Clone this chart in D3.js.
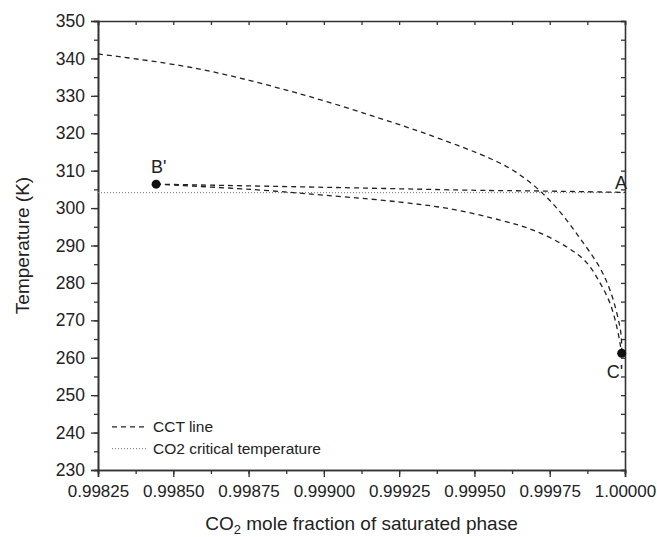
<!DOCTYPE html>
<meta charset="utf-8">
<script src="https://d3js.org/d3.v7.min.js"></script>
<style>
  body { margin: 0; background: #fff; }
  text { font-family: Arial, "Liberation Sans", sans-serif; fill: #222; }
</style>
<div id="chart"></div>
<script>
// upper CCT branch (left edge down to C')
var upperX = [0.99825, 0.998572, 0.998904, 0.999220, 0.999386, 0.999552, 0.999638, 0.999723, 0.999784, 0.999850, 0.999917, 0.999950, 0.999973, 0.999987, 0.999989];
var upperT = [341.2, 337.4, 330.9, 323.1, 318.5, 313.25, 309.6, 304.2, 299.0, 292.0, 284.0, 278.1, 271.9, 266.1, 261.2];
// lower CCT branch (B' to C')
var lowerX = [0.998443, 0.998755, 0.999037, 0.999253, 0.999419, 0.999585, 0.999695, 0.999807, 0.999874, 0.999917, 0.999950, 0.999973, 0.999989];
var lowerT = [306.4, 305.0, 303.2, 301.6, 299.8, 296.8, 294.1, 289.6, 285.3, 280.0, 274.6, 268.2, 261.2];
// near-flat CCT branch (B' to A)
var flatX = [0.998443, 0.999037, 0.999552, 0.999685, 1.0];
var flatT = [306.4, 305.5, 304.7, 304.6, 304.2];
var critT = 304.13;
var points = [{name: "B'", x: 0.998443, t: 306.4}, {name: "C'", x: 0.999989, t: 261.2}];
var xTicks = [0.99825, 0.99850, 0.99875, 0.99900, 0.99925, 0.99950, 0.99975, 1.00000];
var yTicks = [230, 240, 250, 260, 270, 280, 290, 300, 310, 320, 330, 340, 350];

var margin = {top: 21, right: 32, bottom: 67, left: 98},
    width = 657 - margin.left - margin.right,
    height = 537 - margin.top - margin.bottom;

var svg = d3.select("#chart").append("svg")
    .attr("width", 657).attr("height", 537)
  .append("g")
    .attr("transform", "translate(" + margin.left + "," + margin.top + ")");

var x = d3.scaleLinear().domain([0.99825, 1.0]).range([0, width]);
var y = d3.scaleLinear().domain([230, 350]).range([height, 0]);

var minorX = d3.range(0, 15).map(function(i) { return 0.99825 + i * 0.000125; });
var minorY = d3.range(0, 25).map(function(i) { return 230 + i * 5; });

function styleAxis(g) {
  g.selectAll("path").attr("stroke", "#333").attr("stroke-width", 1.6);
  g.selectAll("line").attr("stroke", "#333").attr("stroke-width", 1.3);
}

// minor ticks
svg.append("g").attr("transform", "translate(0," + height + ")")
  .call(d3.axisBottom(x).tickValues(minorX).tickSize(4).tickFormat(""))
  .call(styleAxis);
svg.append("g")
  .call(d3.axisLeft(y).tickValues(minorY).tickSize(4).tickFormat(""))
  .call(styleAxis);
svg.append("g")
  .call(d3.axisTop(x).tickValues(minorX).tickSize(-4).tickFormat(""))
  .call(styleAxis);
svg.append("g").attr("transform", "translate(" + width + ",0)")
  .call(d3.axisRight(y).tickValues(minorY).tickSize(-4).tickFormat(""))
  .call(styleAxis);

// major ticks with labels
svg.append("g").attr("transform", "translate(0," + height + ")")
  .call(d3.axisBottom(x).tickValues(xTicks).tickSize(7).tickPadding(8).tickFormat(d3.format(".5f")))
  .call(styleAxis)
  .selectAll("text").style("font-size", "17px").attr("fill", "#222");
svg.append("g")
  .call(d3.axisLeft(y).tickValues(yTicks).tickSize(7).tickPadding(6))
  .call(styleAxis)
  .selectAll("text").style("font-size", "17.5px").attr("fill", "#222");

// axis titles
svg.append("text")
  .attr("transform", "rotate(-90)")
  .attr("x", -height / 2).attr("y", -69)
  .attr("text-anchor", "middle")
  .style("font-size", "19px")
  .text("Temperature (K)");
var xt = svg.append("text")
  .attr("x", width / 2).attr("y", height + 60)
  .attr("text-anchor", "middle")
  .style("font-size", "19px");
xt.append("tspan").text("CO");
xt.append("tspan").attr("dy", 4).style("font-size", "13px").text("2");
xt.append("tspan").attr("dy", -4).text(" mole fraction of saturated phase");

// critical temperature
svg.append("line")
  .attr("x1", x(0.99825)).attr("x2", x(1.0))
  .attr("y1", y(critT)).attr("y2", y(critT))
  .attr("stroke", "#888").attr("stroke-width", 1.2)
  .attr("stroke-dasharray", "1,2");

var line = d3.line()
  .x(function(d) { return x(d[0]); })
  .y(function(d) { return y(d[1]); })
  .curve(d3.curveCatmullRom.alpha(0.5));

[[upperX, upperT], [lowerX, lowerT], [flatX, flatT]].forEach(function(s) {
  svg.append("path")
    .datum(d3.zip(s[0], s[1]))
    .attr("d", line)
    .attr("fill", "none")
    .attr("stroke", "#222")
    .attr("stroke-width", 1.3)
    .attr("stroke-dasharray", "5,4");
});

svg.selectAll("circle.pt").data(points).enter().append("circle")
  .attr("cx", function(d) { return x(d.x); })
  .attr("cy", function(d) { return y(d.t); })
  .attr("r", 4.5).attr("fill", "#111");

svg.append("text").attr("x", x(0.998443) - 5).attr("y", y(306.4) - 11)
  .style("font-size", "18px").text("B'");
svg.append("text").attr("x", x(0.999989) - 15).attr("y", y(261.2) + 25)
  .style("font-size", "18px").text("C'");
svg.append("text").attr("x", x(1.0) - 10).attr("y", y(304.2) - 3)
  .style("font-size", "18px").text("A");

// legend
var legend = [{label: "CCT line", dash: "5,4", color: "#222"},
              {label: "CO2 critical temperature", dash: "1,2", color: "#888"}];
var lg = svg.selectAll("g.leg").data(legend).enter().append("g")
  .attr("transform", function(d, i) { return "translate(14," + (y(241.5) + i * 21.6) + ")"; });
lg.append("line").attr("x1", 0).attr("x2", 35).attr("y1", 0).attr("y2", 0)
  .attr("stroke", function(d) { return d.color; })
  .attr("stroke-width", 1.2)
  .attr("stroke-dasharray", function(d) { return d.dash; });
lg.append("text").attr("x", 41).attr("y", 5.5)
  .style("font-size", "15.5px").text(function(d) { return d.label; });
</script>
